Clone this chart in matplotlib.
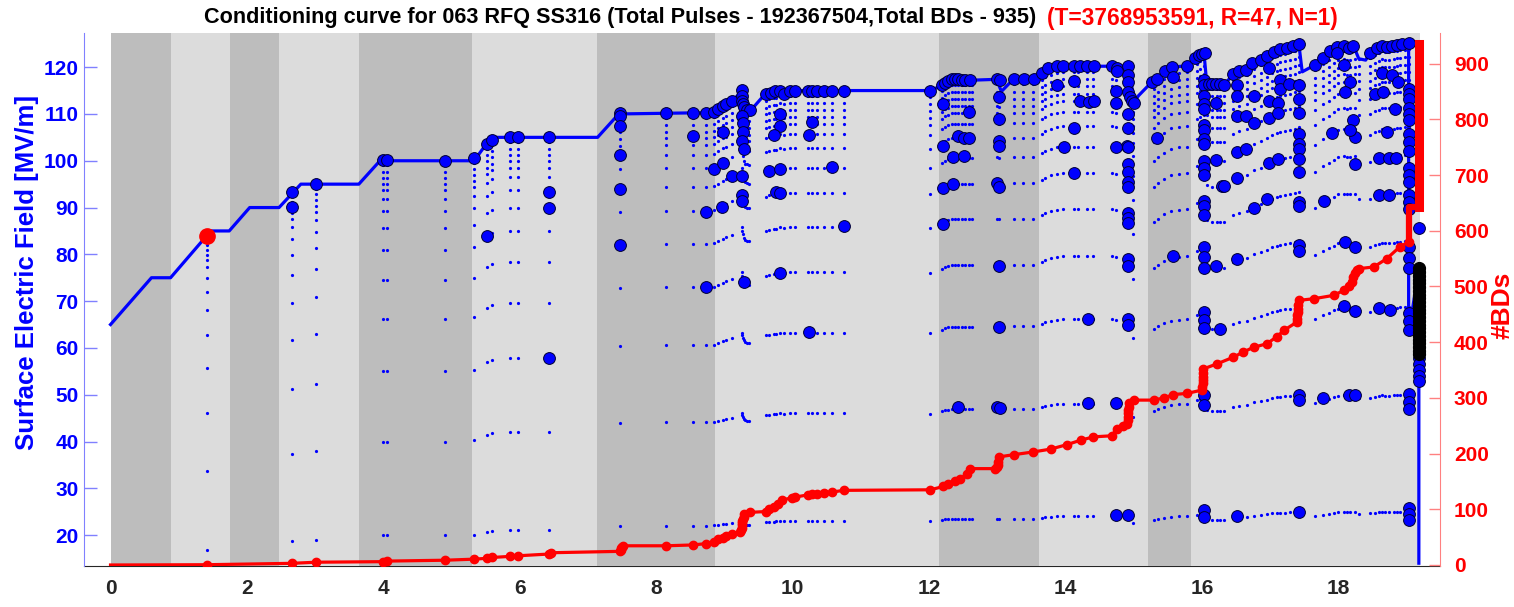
import matplotlib
matplotlib.use('Agg')
import matplotlib.pyplot as plt
from matplotlib import font_manager as fm


def pick_font(cands):
    for c in cands:
        try:
            fm.findfont(fm.FontProperties(family=c), fallback_to_default=False)
            return c
        except Exception:
            pass
    return 'DejaVu Sans'


NARROW = pick_font(['Liberation Sans Narrow', 'Arial Narrow', 'Liberation Sans'])
plt.rcParams['font.family'] = [NARROW, 'DejaVu Sans']
plt.rcParams['font.weight'] = 'bold'

# ---------------- data ----------------
band_edges = [0, 0.887, 1.752, 2.471, 3.644, 5.301, 7.133, 8.864, 12.147,
              13.613, 15.211, 15.842, 19.2]

env_t = [0, 0.60, 0.88, 1.47, 1.74, 2.04, 2.47, 2.79, 3.64, 3.95, 5.33, 5.58,
         7.14, 7.45, 8.85, 8.91, 8.98, 9.03, 9.11, 9.20, 9.25, 9.33, 9.40,
         9.55, 9.68, 9.82, 12.02, 12.19, 12.33, 12.60, 12.99, 13.06, 13.24,
         13.60, 13.75, 13.87, 14.92, 15.01, 15.07, 15.27, 15.46, 15.56, 15.78,
         15.93, 16.03, 16.07, 16.33, 16.46, 16.64, 16.73, 16.95, 17.15, 17.42,
         17.47, 17.66, 17.78, 17.98, 18.22, 18.30, 18.40, 18.47, 18.64, 19.03,
         19.03, 19.18, 19.18]
env_E = [65, 75, 75, 85, 85, 90, 90, 95, 95, 100, 100, 105,
         105, 110, 110.3, 111, 111.7, 112.1, 112.8, 114, 115.2, 111.2, 111,
         113.5, 114.6, 115, 115, 116.1, 117.4, 117.2, 117.4, 114.8, 117.5,
         117.5, 119.8, 120.2, 120.2, 112.6, 113.9, 116.9, 119.2, 120, 120.3,
         122, 123, 116.6, 116.3, 118.5, 119.4, 120.9, 122.4, 123.9, 125,
         119, 120.5, 122, 124.4, 124.6, 121.8, 121.5, 123.1, 124.6, 125.1,
         63, 77, 14]

# ramp-up steps (fraction of the target field) and ramp columns
ramp_levels = [0.2, 0.4, 0.55, 0.662, 0.746, 0.81, 0.857, 0.893, 0.919,
               0.938, 0.951, 0.964, 0.977, 0.99]
ramp_t = [1.41, 2.66, 3.01, 4.0, 4.05, 4.91, 5.33, 5.52, 5.59, 5.85, 5.97, 6.43,
          7.47, 8.15, 8.54, 8.73, 8.85, 8.91, 8.98, 9.03, 9.11, 9.25, 9.26, 9.27,
          9.28, 9.30, 9.33, 9.36, 9.61, 9.66, 9.72, 9.75, 9.82, 9.87, 9.96, 10.04,
          10.23, 10.28, 10.36, 10.46, 10.58, 10.75, 12.02, 12.19, 12.24, 12.28,
          12.33, 12.38, 12.43, 12.48, 12.53, 12.58, 12.63, 12.99, 13.02, 13.24,
          13.38, 13.53, 13.65, 13.7, 13.78, 13.87, 13.97, 14.12, 14.19, 14.31,
          14.41, 14.68, 14.74, 14.92, 14.99, 15.29, 15.36, 15.44, 15.54, 15.66,
          15.78, 15.93, 15.97, 16.03, 16.07, 16.15, 16.22, 16.27, 16.32, 16.46,
          16.54, 16.66, 16.76, 16.86, 16.95, 17.03, 17.1, 17.15, 17.22, 17.29,
          17.37, 17.42, 17.66, 17.78, 17.86, 17.93, 18.0, 18.08, 18.13, 18.17,
          18.25, 18.3, 18.47, 18.54, 18.59, 18.64, 18.69, 18.74, 18.81, 18.86,
          18.91, 18.98, 19.03]
ramp_top = [84, 93.3, 95, 100, 100, 100, 100.6, 103.6, 104.5, 105, 105, 105,
            110, 110.2, 110.2, 110.2, 110.4, 111, 111.7, 112.1, 112.8, 115, 114, 113,
            112, 111.3, 111.1, 111, 114, 114.3, 114.5, 114.6, 115, 114.8, 115, 115,
            115, 115, 115, 115, 115, 115, 114.8, 116.1, 116.7, 117.1,
            117.4, 117.4, 117.4, 117.4, 117.4, 117.4, 117.4, 117.5, 117.3, 117.5,
            117.5, 117.5, 118.5, 119, 119.6, 120, 120.2, 120.2, 120.2, 120.2,
            120.2, 120.2, 120, 120.2, 113, 116.5, 117.5, 118.7, 119.7, 120,
            120.2, 122, 122.5, 123, 117, 116.5, 116.5, 116.5, 116.5, 118.5,
            119.1, 119.6, 120.9, 121.6, 122.4, 123.1, 123.6, 123.9, 124.1, 124.4,
            124.7, 125, 120.5, 122, 122.8, 123.7, 124.4, 124.6, 124.4, 124.5,
            124.6, 123, 123.1, 123.8, 124.2, 124.6, 124.5, 124.5, 124.6, 124.8,
            124.9, 125, 125.1]

# breakdown events (time, field)
bd_early = [(2.66, 93.3), (2.66, 90.2), (3.01, 95.1), (4.0, 100.1), (4.05, 100.1),
            (4.91, 100), (5.33, 100.6), (5.52, 103.6), (5.59, 104.5), (5.52, 83.9),
            (5.85, 105.1), (5.97, 105.1), (6.43, 105.1), (6.43, 93.4), (6.43, 89.9),
            (6.43, 57.9), (7.47, 110.2), (7.47, 109.5), (7.47, 107.4), (7.47, 101.3),
            (7.47, 94), (7.47, 82.1)]
bd_mid = [(8.15, 110.2), (8.54, 110.2), (8.54, 105.2), (8.73, 110.2), (8.73, 89.1),
          (8.73, 73), (8.85, 110.4), (8.91, 111), (8.98, 111.7), (9.03, 112.1),
          (9.11, 112.8), (8.98, 106.2), (8.85, 98.3), (8.98, 99.5), (9.11, 96.8),
          (9.25, 96.8), (8.97, 90.2), (9.25, 115.2), (9.25, 113.9), (9.25, 112.8),
          (9.27, 112.1), (9.29, 111.4), (9.33, 110.8), (9.38, 110.8), (9.25, 109.5),
          (9.27, 108), (9.27, 106.2), (9.25, 104.3), (9.28, 102.6), (9.25, 92.6),
          (9.25, 91.5), (9.28, 74), (9.61, 114.3), (9.68, 114.5), (9.74, 114.8),
          (9.82, 115), (9.87, 114.3), (9.96, 115), (10.04, 115), (9.82, 109.9),
          (9.82, 107.4), (9.72, 105.6), (9.66, 97.9), (9.82, 98.2), (9.75, 93.3),
          (9.82, 93.1), (9.82, 76.1), (10.23, 115), (10.28, 115), (10.36, 115),
          (10.46, 115), (10.58, 115), (10.75, 115), (10.29, 108.2), (10.24, 105.6),
          (10.58, 98.7), (10.75, 86.1), (10.24, 63.3), (12.02, 115)]
bd_late = [(12.19, 116.1), (12.24, 116.7), (12.28, 117.1), (12.33, 117.4),
           (12.38, 117.4), (12.43, 117.4), (12.48, 117.2), (12.53, 117.2),
           (12.6, 117.2), (12.21, 112.1), (12.59, 110.5), (12.21, 103.2),
           (12.43, 105.2), (12.51, 104.9), (12.59, 104.8), (12.35, 100.7),
           (12.51, 101), (12.21, 94.2), (12.35, 95), (12.21, 86.5), (12.43, 47.3),
           (12.99, 117.5), (13.04, 117.2), (13.03, 113.6), (13.03, 108.9),
           (13.03, 104.2), (13.03, 103.2), (12.99, 95.2), (13.03, 94.4),
           (13.03, 77.5), (13.03, 64.5), (12.99, 47.3), (13.04, 47.2),
           (13.24, 117.5), (13.39, 117.5), (13.54, 117.5), (13.65, 118.7),
           (13.75, 119.8), (13.87, 120.2), (13.97, 120.2), (14.12, 120.2),
           (14.21, 120.2), (14.32, 120.2), (14.42, 120.2), (13.87, 116.1),
           (14.12, 117), (14.21, 112.8), (14.34, 112.6), (14.42, 112.8),
           (14.12, 107.1), (13.98, 102.9), (14.12, 97.4), (14.33, 66.2),
           (14.33, 48.3), (14.68, 120.2), (14.75, 119.8), (14.92, 120.2),
           (14.75, 119.1), (14.74, 115), (14.74, 112.4), (14.92, 118.3),
           (14.92, 116.9), (14.92, 114.7), (14.95, 113.6), (14.97, 112.8),
           (15.01, 112.4), (14.92, 109.9), (14.92, 106.9), (14.9, 103.2),
           (14.92, 102.9), (14.74, 102.9), (14.92, 99.2), (14.92, 97.7),
           (14.92, 95.5), (14.92, 94.4), (14.92, 88.9), (14.92, 87.8),
           (14.92, 86.7), (14.92, 79), (14.92, 77.5), (14.92, 66.1), (14.92, 65),
           (14.74, 48.3), (14.74, 24.3), (14.92, 24.2), (15.27, 116.9),
           (15.34, 117.5), (15.46, 119.2), (15.56, 120), (15.78, 120.3),
           (15.34, 104.9), (15.57, 118), (15.57, 79.7)]
bd_end = [(15.9, 122), (15.95, 122.6), (16.0, 122.9), (16.05, 123.1),
          (16.03, 117.2), (16.03, 116.1), (16.03, 113.9), (16.03, 112.1),
          (16.03, 111), (16.03, 107.7), (16.03, 106.6), (16.03, 104.7),
          (16.03, 103.6), (16.03, 100), (16.03, 98.5), (16.03, 97), (16.03, 91.5),
          (16.03, 90.4), (16.03, 88.5), (16.03, 81.5), (16.03, 79.5), (16.03, 77.1),
          (16.03, 67.6), (16.03, 66), (16.03, 64.3), (16.03, 49.9), (16.03, 47.7),
          (16.03, 25.3), (16.03, 23.8), (16.11, 116.5), (16.15, 116.3),
          (16.2, 116.3), (16.27, 116.3), (16.33, 116.1), (16.2, 112.4),
          (16.2, 100.1), (16.29, 94.6), (16.33, 94.6), (16.21, 77.5), (16.27, 64),
          (16.46, 118.5), (16.54, 119.1), (16.64, 119.4), (16.52, 116.1),
          (16.52, 113.9), (16.52, 109.6), (16.64, 109.6), (16.77, 113.9),
          (16.77, 108), (16.52, 101.8), (16.64, 102.5), (16.52, 96.4), (16.77, 90),
          (16.96, 91.8), (16.52, 79), (16.52, 24.1), (16.98, 99.6), (17.12, 100.3),
          (16.73, 120.9), (16.86, 121.6), (16.95, 122.4), (17.05, 123.3),
          (17.15, 123.9), (17.25, 124.2), (17.34, 124.6), (17.42, 125),
          (16.98, 119.8), (16.98, 112.8), (16.98, 109.1), (17.12, 112.4),
          (17.12, 110.2), (17.15, 117.2), (17.15, 115.4), (17.27, 116.5),
          (17.42, 116.1), (17.42, 113.2), (17.42, 110.2), (17.42, 105.8),
          (17.42, 103.6), (17.42, 102.5), (17.42, 100.3), (17.42, 97.7),
          (17.42, 91.1), (17.42, 90.4), (17.42, 81.9), (17.42, 80.8),
          (17.42, 49.9), (17.42, 48.8), (17.42, 24.9), (17.66, 120.5),
          (17.78, 122), (17.88, 123.5), (17.98, 124.4), (18.08, 124.6),
          (18.15, 124.2), (18.22, 124.6), (17.98, 123.1), (18.08, 120.5),
          (18.17, 116.9), (18.1, 114.7), (18.22, 108.8), (18.25, 105.1),
          (18.17, 106.6), (17.91, 106), (18.25, 99.2), (17.79, 91.5), (18.1, 82.6),
          (18.25, 81.5), (18.08, 69), (18.25, 67.9), (17.78, 49.2), (18.15, 49.9),
          (18.25, 49.9), (18.47, 123.1), (18.57, 124.2), (18.64, 124.6),
          (18.71, 124.4), (18.79, 124.6), (18.86, 124.8), (18.93, 125),
          (19.03, 125.1), (18.54, 114.3), (18.64, 118.7), (18.79, 118.3),
          (18.88, 116.9), (18.66, 114.7), (18.83, 111), (18.71, 106.2),
          (18.6, 100.6), (18.74, 100.6), (18.85, 100.6), (18.59, 92.6),
          (18.74, 92.6), (18.59, 68.6), (18.76, 68.2), (19.03, 115.4),
          (19.03, 114.3), (19.03, 113.2), (19.03, 111.3), (19.03, 110),
          (19.03, 108.8), (19.03, 105.8), (19.03, 104), (19.03, 102.1),
          (19.03, 98.4), (19.03, 97), (19.03, 95.5), (19.03, 92.6), (19.03, 91.1),
          (19.03, 89.6), (19.03, 81.5), (19.03, 79.3), (19.03, 77.1), (19.03, 67.5),
          (19.03, 65.7), (19.03, 63.8), (19.03, 50.2), (19.03, 48.5), (19.03, 46.9),
          (19.03, 25.9), (19.03, 24.6), (19.03, 23.3), (19.18, 85.6), (19.18, 57.8),
          (19.18, 56.5), (19.18, 55.2), (19.18, 54), (19.18, 53)]

# last burst of breakdowns (black markers)
blk_t = 19.18
blk_E = [77, 76.2, 75.4, 74.6, 73.8, 73, 72.2, 71.4, 70.6, 69.8, 69, 68.2, 67.4,
         66.6, 65.8, 65, 64.2, 63.4, 62.6, 61.8, 61, 60.2, 59.4, 58.6]

# highlighted breakdown (T=..., R=47, N=1)
sel_t = [1.41]
sel_E = [84]

# cumulative breakdowns (right axis)
cum_t = [0, 1.41, 2.66, 3.01, 4.0, 4.05, 4.91, 5.33, 5.52, 5.59, 5.85, 5.97, 6.43,
         6.45, 7.47, 7.48, 7.49, 7.50, 7.51, 8.15, 8.54, 8.73, 8.85, 8.91, 8.98,
         9.03, 9.11, 9.23, 9.24, 9.25, 9.25, 9.26, 9.26, 9.27, 9.28, 9.29, 9.38,
         9.61, 9.66, 9.72, 9.78, 9.84, 9.99, 10.04, 10.23, 10.29, 10.36, 10.46,
         10.58, 10.75, 12.02, 12.21, 12.28, 12.38, 12.46, 12.55, 12.6, 12.97,
         13.0, 13.01, 13.01, 13.02, 13.24, 13.53, 13.78, 14.02, 14.22, 14.41,
         14.68, 14.75, 14.85, 14.9, 14.91, 14.91, 14.92, 14.92, 14.93, 14.93,
         15.0, 15.29, 15.45, 15.58, 15.78, 16.0, 16.0, 16.01, 16.01, 16.01, 16.02,
         16.02, 16.22, 16.46, 16.6, 16.76, 16.95, 17.1, 17.2, 17.39, 17.4, 17.4,
         17.41, 17.41, 17.41, 17.42, 17.64, 17.93, 18.08, 18.15, 18.2, 18.22,
         18.25, 18.28, 18.3, 18.52, 18.71, 18.9, 19.03]
cum_n = [0, 0.5, 3, 5, 6, 7, 8.6, 10.5, 12, 13.5, 15.4, 16.5, 19.7,
         22, 24.5, 27, 30, 32, 34.5, 34.5, 36, 38.4, 42, 46, 49,
         52, 56, 59.4, 63, 67, 71, 75, 79, 83, 87, 91, 94.5,
         96, 100, 105, 110, 116, 121, 122, 126, 127, 128, 129,
         131, 134, 135, 141, 145, 150, 155, 163, 173, 173,
         176, 180, 185, 194, 198, 203, 208, 216, 224, 230,
         232, 245, 250, 254, 260, 266, 272, 278, 284, 290,
         296, 296, 300, 306, 308, 314, 320, 326, 332, 338, 344,
         352, 361, 373, 382, 391, 397, 410, 421, 436, 442, 448,
         454, 460, 466, 475, 478, 484, 493, 500, 508, 517,
         525, 529, 532, 535, 550, 571, 580]
burst1_t = [19.03, 19.03, 19.18]
burst1_n = [580, 643, 643]
burst2_t = [19.18, 19.18]
burst2_n = [643, 935]

x_ticks = [0, 2, 4, 6, 8, 10, 12, 14, 16, 18]
yl_ticks = [20, 30, 40, 50, 60, 70, 80, 90, 100, 110, 120]
yr_ticks = [0, 100, 200, 300, 400, 500, 600, 700, 800, 900]

title_main = 'Conditioning curve for 063 RFQ SS316 (Total Pulses - 192367504,Total BDs - 935)'
title_red = '(T=3768953591, R=47, N=1)'

# ---------------- figure ----------------
W, H = 1514, 607
fig = plt.figure(figsize=(W / 100, H / 100), dpi=100)
fig.patch.set_facecolor('white')
L, R, B, T = 84, 1440, 566, 33
ax = fig.add_axes([L / W, 1 - B / H, (R - L) / W, (B - T) / H])

dark, light = '#bdbdbd', '#dcdcdc'
for i in range(len(band_edges) - 1):
    ax.axvspan(band_edges[i], band_edges[i + 1], color=dark if i % 2 == 0 else light,
               lw=0, zorder=0.6)

# ramp dots
rx, ry = [], []
for t, top in zip(ramp_t, ramp_top):
    for f in ramp_levels:
        rx.append(t)
        ry.append(top * f)
ax.plot(rx, ry, 'o', ls='none', ms=2.3, mfc='#0000ff', mec='none', zorder=2)

ax.plot(env_t, env_E, '-', color='#0000ff', lw=2.3, zorder=3, solid_joinstyle='round')

bd_all = bd_early + bd_mid + bd_late + bd_end
ax.plot([p[0] for p in bd_all], [p[1] for p in bd_all], 'o', ls='none', ms=8.5,
        mfc='#0000ff', mec='#000033', mew=0.7, zorder=4)
ax.plot([blk_t] * len(blk_E), blk_E, 'o', ls='none', ms=8.5, mfc='black',
        mec='black', zorder=4)
ax.plot(sel_t, sel_E, 'o', ls='none', ms=11, mfc='red', mec='red', zorder=5)

ax.set_xlim(-0.389, 19.49)
ax.set_ylim(13.4, 127.3)
ax.set_xticks(x_ticks)
ax.set_yticks(yl_ticks)
ax.tick_params(axis='x', length=0, pad=9, labelsize=15, labelcolor='#262626')
ax.tick_params(axis='y', direction='in', length=9, width=1, color='#8080ff',
               pad=4, labelsize=15, labelcolor='#0000ff')
for s in ['top', 'right']:
    ax.spines[s].set_visible(False)
ax.spines['left'].set_color('#8080ff')
ax.spines['bottom'].set_color('#262626')
ax.spines['bottom'].set_zorder(0.5)
ax.set_ylabel('Surface Electric Field [MV/m]', color='#0000ff', fontsize=18.5,
              fontweight='bold')
ax.yaxis.set_label_coords(-0.033, 0.55)

ax2 = ax.twinx()
ax2.plot(cum_t, cum_n, '-', color='red', lw=2.3, zorder=3)
ax2.plot(cum_t[1:], cum_n[1:], 'o', ls='none', ms=6, mfc='red', mec='red', zorder=3)
ax2.plot(burst1_t, burst1_n, '-', color='red', lw=4.5, zorder=3)
ax2.plot(burst2_t, burst2_n, '-', color='red', lw=6.5, zorder=3)
ax2.set_ylim(-1.8, 955)
ax2.set_yticks(yr_ticks)
ax2.tick_params(axis='y', direction='in', length=8, width=1, color='#ff8080',
                pad=10, labelsize=15, labelcolor='#ff0000')
for s in ['top', 'left', 'bottom']:
    ax2.spines[s].set_visible(False)
ax2.spines['right'].set_color('#ff8080')
ax2.set_ylabel('#BDs', color='#ff0000', fontsize=19, fontweight='bold')
ax2.yaxis.set_label_coords(1.037, 0.49)

fig.text(1036 / W, 1 - 18 / H, title_main, ha='right', va='center', fontsize=15.6,
         fontweight='bold', color='black')
fig.text(1047 / W, 1 - 18 / H, title_red, ha='left', va='center', fontsize=16.3,
         fontweight='bold', color='red')

fig.savefig('out.png', dpi=100, facecolor='white')
